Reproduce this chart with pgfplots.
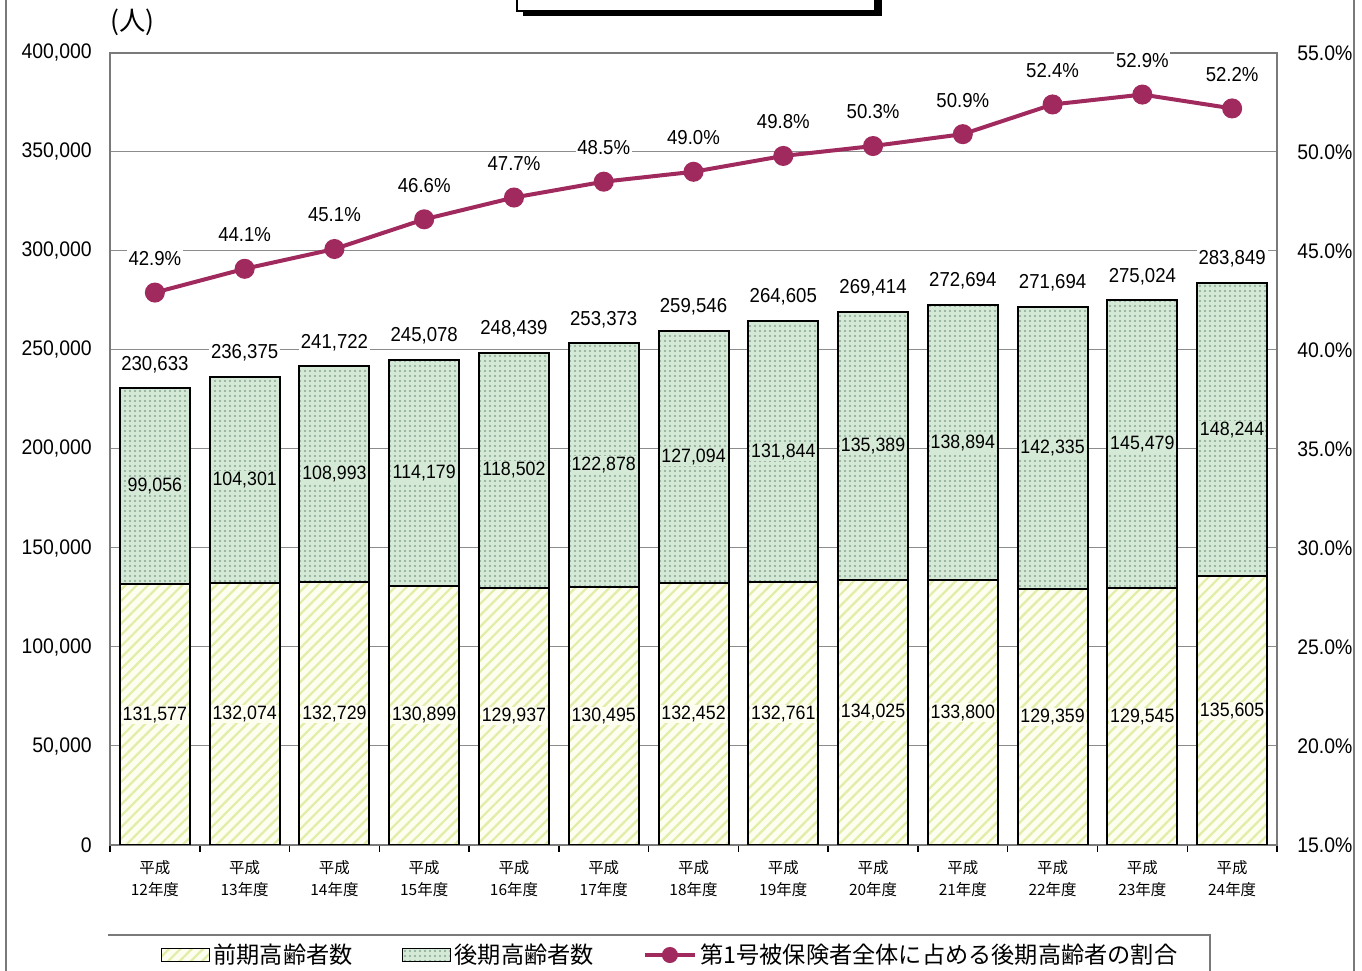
\documentclass[border=0pt]{standalone}
\usepackage{pgfplots}
\pgfplotsset{compat=1.18}
\usepackage{pgfplotstable}
\usetikzlibrary{patterns,patterns.meta}
\usepackage{fontspec}
\setmainfont{Liberation Sans}[FakeStretch=0.92]
\newfontfamily\jp{Noto Sans CJK JP}
\definecolor{gridc}{HTML}{8C8C8C}
\definecolor{zenki}{HTML}{FDFEF0}
\definecolor{zenkiL}{HTML}{E2EDA8}
\definecolor{kouki}{HTML}{D4E9D6}
\definecolor{koukiD}{HTML}{8AA595}
\definecolor{linec}{HTML}{A02A5E}
\definecolor{framec}{HTML}{7A7A7A}

\pgfplotstableread{
x a b t p
0 131577 99056 230633 42.9
1 132074 104301 236375 44.1
2 132729 108993 241722 45.1
3 130899 114179 245078 46.6
4 129937 118502 248439 47.7
5 130495 122878 253373 48.5
6 132452 127094 259546 49.0
7 132761 131844 264605 49.8
8 134025 135389 269414 50.3
9 133800 138894 272694 50.9
10 129359 142335 271694 52.4
11 129545 145479 275024 52.9
12 135605 148244 283849 52.2
}\data

\pgfplotsset{
  common/.style={scale only axis, width=233.4mm, height=158.4mm,
    at={(22mm,25.2mm)}, anchor=south west, xmin=-0.5, xmax=12.5,
    /pgf/number format/assume math mode=true,
    tick label style={font=\fontsize{12}{14}\selectfont}},
  zenkistyle/.style={fill=zenki, draw=black, line width=0.4mm,
    postaction={pattern color=zenkiL, pattern={Lines[angle=45,distance=1.6mm,line width=0.45mm]}}},
  koukistyle/.style={fill=kouki, draw=black, line width=0.4mm,
    postaction={pattern color=koukiD, pattern={Dots[distance=1mm,radius=0.22mm]}}},
  barlegend/.style={legend image code/.code={\draw[##1] (0mm,-1.3mm) rectangle (9.6mm,1.3mm);}},
  linelegend/.style={legend image code/.code={\draw[##1,mark repeat=2,mark phase=2,mark size=1.2mm] plot coordinates {(0mm,0mm) (5mm,0mm) (10mm,0mm)};}},
}

\begin{document}
\begin{tikzpicture}[x=0.2mm,y=0.2mm]
\path[use as bounding box] (0,0) rectangle (1362,971);
\draw[framec, line width=0.3mm] (6,0) -- (6,971);
\draw[framec, line width=0.3mm] (1354,0) -- (1354,971);
% title box (cut off at top)
\fill[black] (523,955) rectangle (882,1000);
\draw[black, line width=0.25mm, fill=white] (517,960) rectangle (875,1000);
% legend frame
\draw[framec, line width=0.3mm] (108,36) -- (1210,36) -- (1210,-10);
\node[anchor=west, font=\jp\fontsize{15}{16}\selectfont, inner sep=0pt] at (110,949) {(人)};

% bars
\begin{axis}[common, ybar stacked, bar width=14mm, ymin=0, ymax=400000,
  ytick={0,50000,...,400000}, scaled y ticks=false,
  /pgf/number format/.cd, fixed, precision=0, 1000 sep={,}, /pgfplots/.cd,
  ymajorgrids, major grid style={gridc, line width=0.2mm},
  axis line style={framec, line width=0.3mm},
  ytick style={draw=none},
  yticklabel style={anchor=east, inner sep=0pt, xshift=-3.6mm},
  xtick=data, major x tick style={draw=none}, xtick pos=left,
  xticklabels={平成\\12年度,平成\\13年度,平成\\14年度,平成\\15年度,平成\\16年度,平成\\17年度,平成\\18年度,平成\\19年度,平成\\20年度,平成\\21年度,平成\\22年度,平成\\23年度,平成\\24年度},
  xticklabel style={font=\jp\fontsize{8.8}{12.5}\selectfont, align=center, inner sep=0pt, anchor=north, yshift=-1.6mm},
  minor xtick={-0.5,0.5,...,12.5}, xtick align=outside,
  minor tick length=1.4mm, minor x tick style={black, line width=0.3mm},
  ]
\addplot[zenkistyle] table[x=x, y=a] {\data};
\addplot[koukistyle] table[x=x, y=b] {\data};
\end{axis}

% value labels
\begin{axis}[common, hide axis, ymin=0, ymax=400000]
\addplot[draw=none, mark=none, point meta=explicit,
  nodes near coords={\pgfmathprintnumber[fixed,precision=0,1000 sep={,}]{\pgfplotspointmeta}},
  nodes near coords align={center},
  every node near coord/.append style={fill=zenki, inner sep=0.6pt, text=black, font=\fontsize{11}{12}\selectfont}]
  table[x=x, y expr=\thisrow{a}/2, meta=a] {\data};
\addplot[draw=none, mark=none, point meta=explicit,
  nodes near coords={\pgfmathprintnumber[fixed,precision=0,1000 sep={,}]{\pgfplotspointmeta}},
  nodes near coords align={center},
  every node near coord/.append style={fill=kouki, inner sep=0.6pt, text=black, font=\fontsize{11}{12}\selectfont}]
  table[x=x, y expr=\thisrow{a}+\thisrow{b}/2, meta=b] {\data};
\addplot[draw=none, mark=none, point meta=explicit,
  nodes near coords={\pgfmathprintnumber[fixed,precision=0,1000 sep={,}]{\pgfplotspointmeta}},
  nodes near coords align={center},
  every node near coord/.append style={fill=white, inner sep=1pt, text=black, yshift=4.8mm, font=\fontsize{11.5}{12}\selectfont}]
  table[x=x, y=t, meta=t] {\data};
\end{axis}

% percentage line
\begin{axis}[common, axis y line*=right, axis x line=none, ymin=15, ymax=55,
  ytick={15,20,...,55}, ytick style={draw=none},
  axis line style={framec, line width=0.3mm},
  yticklabel={\pgfmathprintnumber[fixed,fixed zerofill,precision=1]{\tick}\%},
  yticklabel style={anchor=west, inner sep=0pt, xshift=4mm},
  legend style={at={(0.0385,-0.1389)}, anchor=west, draw=none, fill=none,
    legend columns=3, font=\jp\fontsize{13.2}{15}\selectfont,
    nodes={inner sep=0pt},
    /tikz/every odd column/.append style={column sep=0.7mm},
    /tikz/every even column/.append style={column sep=9.8mm}},
  ]
\addlegendimage{zenkistyle, line width=0.3mm, barlegend}
\addlegendentry{前期高齢者数}
\addlegendimage{koukistyle, line width=0.3mm, barlegend}
\addlegendentry{後期高齢者数}
\addplot[linec, line width=0.8mm, mark=*, mark size=1.6mm,
  mark options={fill=linec, draw=linec}, linelegend,
  point meta=explicit,
  nodes near coords={\pgfmathprintnumber[fixed,fixed zerofill,precision=1]{\pgfplotspointmeta}\%},
  nodes near coords align={center},
  every node near coord/.append style={fill=white, inner sep=1pt, text=black, yshift=6.8mm, font=\fontsize{11.5}{12}\selectfont}]
  table[x=x, y=p, meta=p] {\data};
\addlegendentry{第1号被保険者全体に占める後期高齢者の割合}
\end{axis}
\end{tikzpicture}
\end{document}
